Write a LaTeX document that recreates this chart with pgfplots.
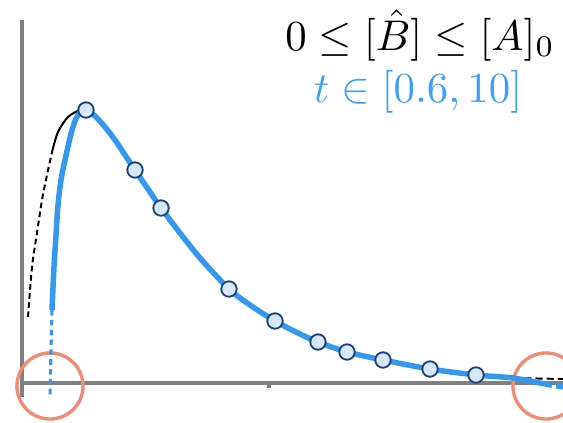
\documentclass[border=0pt]{standalone}
\usepackage{pgfplots}
\pgfplotsset{compat=1.18}
\definecolor{lineblue}{RGB}{52,152,238}
\definecolor{textblue}{RGB}{60,160,250}
\definecolor{mkfill}{RGB}{214,232,248}
\definecolor{mkdraw}{RGB}{28,65,115}
\definecolor{axgray}{RGB}{128,128,128}
\definecolor{salmon}{RGB}{240,140,118}
\begin{document}
\begin{tikzpicture}
\begin{axis}[
  width=14.075cm, height=10.55cm, scale only axis,
  xmin=0, xmax=563, ymin=0, ymax=422,
  hide axis, clip marker paths=true,
]
% axes
\addplot[axgray, line width=2.3pt] coordinates {(22,402) (22,25)};
\addplot[axgray, line width=2.3pt] coordinates {(22,39) (563,39)};
\addplot[axgray, line width=2.3pt] coordinates {(269,39) (269,34)};
% red circles
\addplot[only marks, mark=o, mark size=23.5pt, mark options={draw=salmon, line width=2.4pt}] coordinates {(50,36) (546,36)};
% black reference curve
\addplot[black, line width=1.4pt, dash pattern=on 4pt off 2.5pt, smooth] coordinates {(28,105) (32,155) (37,189) (42,222) (47,247) (52,270)};
\addplot[black, line width=1.4pt, smooth] coordinates {(52,270) (58,290) (68,305) (80,312) (86,312)};
\addplot[black, line width=1.4pt, dash pattern=on 5pt off 3pt] coordinates {(513,44) (563,43)};
% blue curve
\addplot[lineblue, line width=2.2pt, dash pattern=on 4pt off 3pt, smooth] coordinates {(52,112) (51,72) (50,25)};
\addplot[lineblue, line width=3.9pt, smooth, tension=0.5] coordinates {
(52,112) (54,155) (56,187) (58,217) (61,242) (65,262) (72,292) (78,307) (86,312)
(95,306) (105,295) (115,282) (125,267) (135,252) (148,233) (161,214) (180,189) (200,164)
(229,133) (250,117) (275,101) (300,88) (318,80) (347,70) (383,62) (430,53) (476,47) (513,44) (545,38)};
\addplot[lineblue, line width=3.9pt, dash pattern=on 5pt off 3pt] coordinates {(545,38) (563,35)};
% sample points
\addplot[only marks, mark=*, mark size=5.5pt, mark options={fill=mkfill, draw=mkdraw, line width=1.3pt}] coordinates {
(86,312) (135,252) (161,214) (229,133) (275,101) (318,80) (347,70) (383,62) (430,53) (476,47)};
% labels
\node[anchor=base, scale=3.05, inner sep=0pt] at (axis cs:420,372) {$0\le[\hat{B}]\le[A]_0$};
\node[anchor=base, scale=3.05, inner sep=0pt, text=textblue] at (axis cs:418,320) {$t\in[0.6,10]$};
\end{axis}
\pgfresetboundingbox
\useasboundingbox (current axis.south west) rectangle (current axis.north east);
\end{tikzpicture}
\end{document}
